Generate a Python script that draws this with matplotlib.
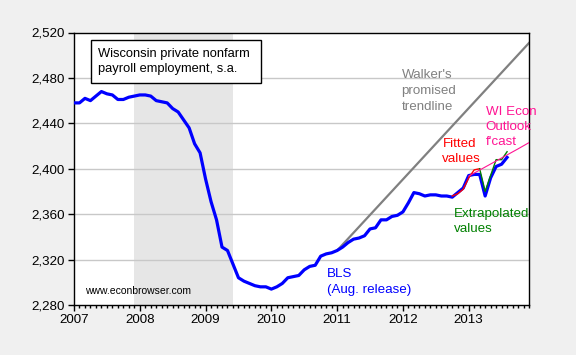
import numpy as np
import matplotlib
matplotlib.use("Agg")
import matplotlib.pyplot as plt
from matplotlib.patches import Rectangle

plt.rcParams['font.family'] = ['Liberation Sans', 'DejaVu Sans']

# ====== DATA (thousands, s.a.) ======
# BLS private nonfarm payrolls, monthly from Jan 2007
bls = [2458, 2458, 2462, 2460, 2464, 2468, 2466, 2465, 2461, 2461, 2463, 2464,
       2465, 2465, 2464, 2460, 2459, 2458, 2453, 2450, 2443, 2436, 2422, 2414,
       2391, 2371, 2355, 2331, 2328, 2316, 2304, 2301, 2299, 2297, 2296, 2296,
       2294, 2296, 2299, 2304, 2305, 2306, 2311, 2314, 2315, 2323, 2325, 2326,
       2328, 2331, 2335, 2338, 2339, 2341, 2347, 2348, 2355, 2355, 2358, 2359,
       2362, 2370, 2379, 2378, 2376, 2377, 2377, 2376, 2376, 2375, 2379, 2383,
       2394, 2395, 2395, 2376, 2392, 2402, 2404, 2410]
# month index (0 = Jan 2007) and values
fitted_m = [69, 70, 71, 72, 73, 74]
fitted = [2376, 2378, 2382, 2392, 2399, 2400]
extrap_m = [74, 75, 76, 77, 78, 79]
extrap = [2400, 2380, 2394, 2408, 2408, 2415]
wiecon_m = [72, 75, 78, 81, 83]
wiecon = [2393.5, 2401.5, 2409.5, 2417.5, 2423]
walker_m = [48, 84]
walker = [2328, 2516]

recession = (2007 + 11/12, 2009 + 5/12)
yticks = [2280, 2320, 2360, 2400, 2440, 2480, 2520]
years = [2007, 2008, 2009, 2010, 2011, 2012, 2013]


def to_year(m):
    return 2007 + np.asarray(m) / 12.0


fig = plt.figure(figsize=(5.76, 3.55), dpi=100, facecolor='#f0f0f0')
ax = fig.add_axes([74/576, 1 - 305/355, 455/576, 272.5/355])
ax.set_facecolor('white')

ax.axvspan(*recession, color='#e6e6e6', zorder=0, lw=0)
for y in yticks[1:-1]:
    ax.axhline(y, color='#c8c8c8', lw=1.0, zorder=1)

ax.plot(to_year(walker_m), walker, color='#808080', lw=1.6, zorder=2)
ax.plot(to_year(range(len(bls))), bls, color='#0000ff', lw=2.3, zorder=3)
ax.plot(to_year(fitted_m), fitted, color='#ff0000', lw=1.0, zorder=4)
ax.plot(to_year(extrap_m), extrap, color='#008000', lw=1.0, zorder=4)
ax.plot(to_year(wiecon_m), wiecon, color='#ff1493', lw=0.8, zorder=5)

ax.set_xlim(2007, 2007 + 83/12)
ax.set_ylim(2280, 2520)
ax.set_yticks(yticks)
ax.set_yticklabels([f"{v:,}" for v in yticks])
ax.set_xticks(years)
ax.set_xticklabels([str(y) for y in years])
ax.set_xticks(to_year(range(84)), minor=True)
ax.tick_params(axis='both', which='major', direction='out', labelsize=9.6,
               width=1, colors='black')
ax.tick_params(axis='y', length=4.5, pad=2)
ax.tick_params(axis='x', which='major', length=4.5, pad=2)
ax.tick_params(axis='x', which='minor', length=2.5, width=1)
for s in ax.spines.values():
    s.set_linewidth(1.0)
    s.set_color('black')

# title box
ax.add_patch(Rectangle((0.0367, 0.8136), 0.3737, 0.1589, transform=ax.transAxes,
                       facecolor='white', edgecolor='black', lw=1.0, zorder=6))
ax.text(0.0534, 0.893, "Wisconsin private nonfarm\npayroll employment, s.a.",
        transform=ax.transAxes, fontsize=9.3, va='center', ha='left',
        linespacing=1.3, zorder=7)

ax.text(2011.98, 2488, "Walker's\npromised\ntrendline", color='#808080',
        fontsize=9.6, va='top', ha='left', linespacing=1.45)
ax.text(2013.26, 2455.5, "WI Econ\nOutlook\nf'cast", color='#ff1493',
        fontsize=9.6, va='top', ha='left', linespacing=1.35)
ax.text(2012.6, 2427.5, "Fitted\nvalues", color='#ff0000',
        fontsize=9.6, va='top', ha='left', linespacing=1.35)
ax.text(2012.77, 2365.5, "Extrapolated\nvalues", color='#008000',
        fontsize=9.6, va='top', ha='left', linespacing=1.35)
ax.text(2010.84, 2312.5, "BLS\n(Aug. release)", color='#0000ff',
        fontsize=9.6, va='top', ha='left', linespacing=1.4)
ax.text(2007.17, 2292, "www.econbrowser.com", color='black',
        fontsize=7.5, va='center', ha='left')

fig.savefig("out.png", dpi=100, facecolor=fig.get_facecolor())
